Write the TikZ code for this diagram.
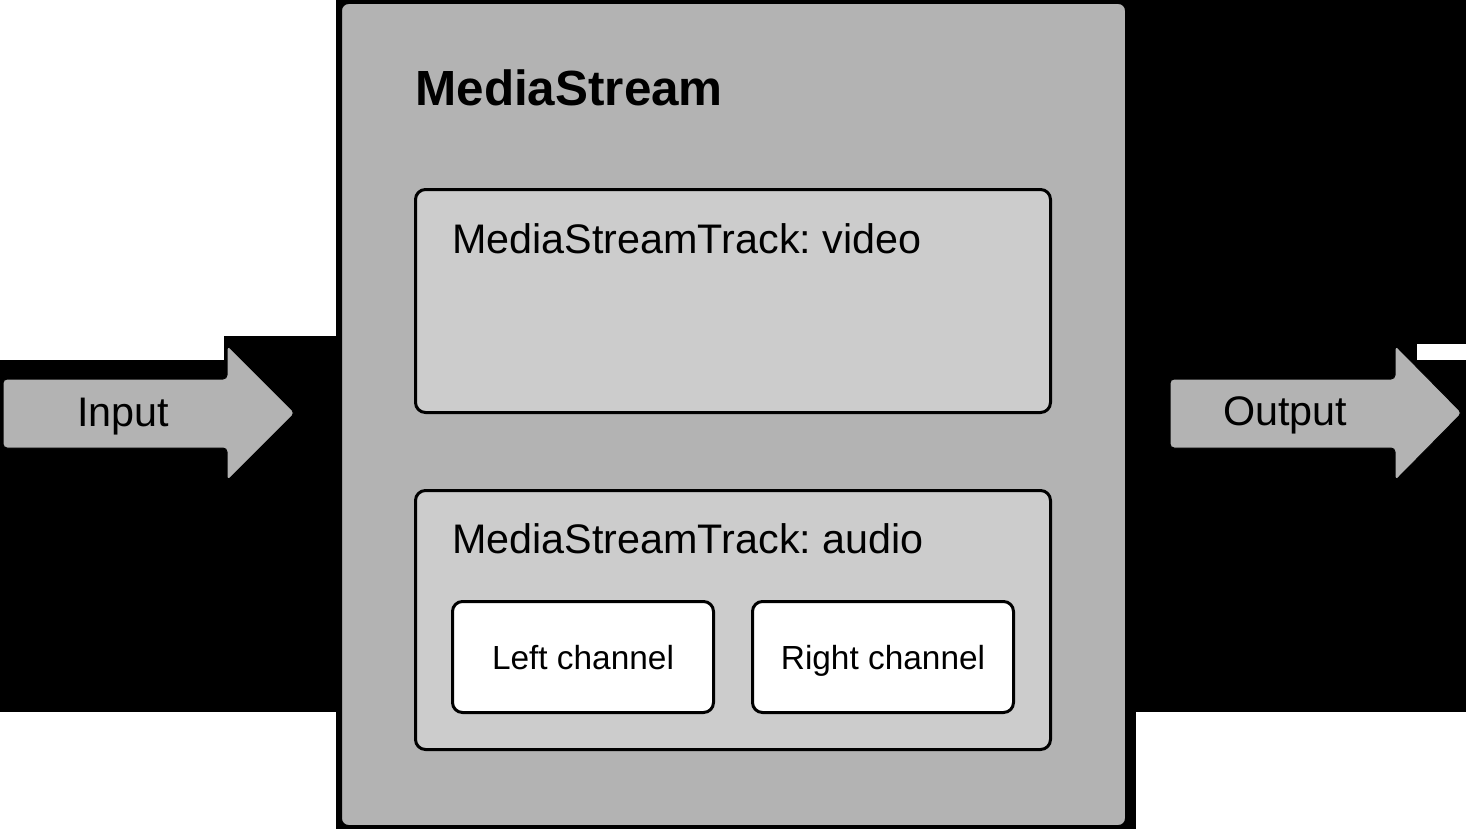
\documentclass[tikz,border=0pt]{standalone}
\usepackage{fontspec}
\setmainfont{Liberation Sans}
\frenchspacing
\definecolor{streamgray}{RGB}{179,179,179}
\definecolor{trackgray}{RGB}{204,204,204}

\begin{document}
\begin{tikzpicture}[x=0.5pt,y=-0.5pt,line cap=round,line join=round,
  trackbox/.style={draw=black,line width=1.5pt,fill=trackgray,rounded corners=5pt,inner sep=0pt,minimum width=317.5pt},
  chanbox/.style={draw=black,line width=1.5pt,fill=white,rounded corners=5pt,inner sep=0pt,minimum width=130.5pt,minimum height=55.5pt,text height=12pt,text depth=0pt,font=\fontsize{16.7}{20}\selectfont},
  bigtext/.style={inner sep=0pt,font=\fontsize{20.65}{25}\selectfont},
  arrowbody/.style={fill=streamgray,draw=black,line width=0.5pt,rounded corners=2pt}]
\useasboundingbox (0,0) rectangle (1466,829);
\fill[white] (0,0) rectangle (1466,829);
% black background patches
\fill[black] (0,360) rectangle (224,712);
\fill[black] (224,336) rectangle (336,712);
\fill[black] (336,0) rectangle (1136,829);
\fill[black] (1125,0) rectangle (1466,344);
\fill[black] (1125,344) rectangle (1417,360);
\fill[black] (1125,360) rectangle (1466,712);

% in and out arrows
\draw[arrowbody] (3,379) -- (227,379) -- (227,345) -- (295,413) -- (227,481) -- (227,448) -- (3,448) -- cycle;
\draw[arrowbody] (1170,379) -- (1395,379) -- (1395,345) -- (1462,413) -- (1395,481) -- (1395,448) -- (1170,448) -- cycle;
\node[bigtext,anchor=base] (input) at (123,426) {Input};
\node[bigtext,anchor=base] (output) at (1285,425) {Output};

% the stream
\node[draw=black,line width=1.5pt,fill=streamgray,rounded corners=4pt,inner sep=0pt,minimum width=393pt,minimum height=412pt] (stream) at (733.5,414.5) {};
\node[inner sep=0pt,anchor=base west,font=\fontsize{24.7}{30}\selectfont\bfseries] (streamlabel) at (415,105) {MediaStream};

% tracks
\node[trackbox,minimum height=111.5pt] (video) at (733,301) {};
\node[bigtext,anchor=base west] (videolabel) at (452,253) {MediaStreamTrack: video};
\node[trackbox,minimum height=129.5pt] (audio) at (733,620) {};
\node[bigtext,anchor=base west] (audiolabel) at (452,553) {MediaStreamTrack: audio};

% channels
\node[chanbox] (left) at (583,657) {Left channel};
\node[chanbox] (right) at (883,657) {Right channel};

\end{tikzpicture}
\end{document}
